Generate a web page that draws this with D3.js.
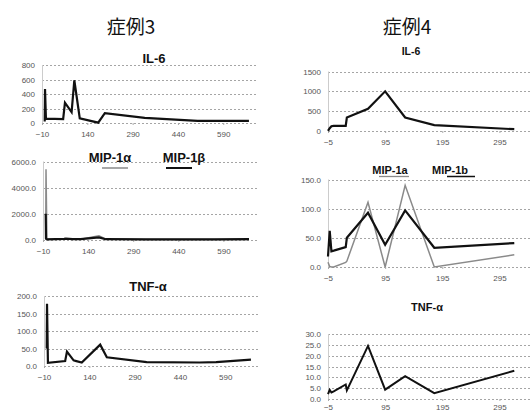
<!DOCTYPE html>
<html><head><meta charset="utf-8">
<script src="https://cdn.jsdelivr.net/npm/d3@7/dist/d3.min.js"></script>
<style>body{margin:0;background:#fff;}svg{display:block;}</style>
</head><body>
<svg id="c" width="532" height="416"></svg>
<script>
// ---- Data ----
const caseTitles = ["症例3", "症例4"];
const xTicks3 = [-10, 140, 290, 440, 590];
const xTicks4 = [-5, 95, 195, 295];
const days3 = [-1, 0, 3, 60, 66, 88, 97, 115, 176, 198, 330, 505, 560, 675];
const il6_3 = [20, 470, 60, 55, 280, 150, 590, 65, 5, 135, 70, 30, 30, 30];
const mip1a_3 = [100, 5400, 50, 60, 80, 60, 50, 60, 330, 80, 30, 30, 30, 40];
const mip1b_3 = [2000, 100, 50, 80, 100, 70, 60, 60, 200, 60, 50, 50, 50, 60];
const tnf_3 = [50, 178, 9, 14, 41, 16, 14, 10, 61, 25, 11, 10, 11, 18];
const days4 = [-5, -2, 1, 5, 26, 28, 65, 95, 130, 181, 321];
const il6_4 = [5, 70, 120, 130, 130, 340, 560, 1000, 340, 150, 45];
const mip1a_4 = [8, 1, 0, 0, 8, 10, 111, 0, 140, 0, 21];
const mip1b_4 = [18, 62, 27, 28, 34, 50, 93, 38, 97, 33, 41];
const tnf_4 = [2.2, 4.2, 3, 3.5, 6.7, 4, 24.5, 4.3, 10.5, 2.7, 13];
const yTicksIL6_3 = [0, 200, 400, 600, 800];
const yTicksMIP_3 = [0, 2000, 4000, 6000];
const yTicksTNF_3 = [0, 50, 100, 150, 200];
const yTicksIL6_4 = [0, 500, 1000, 1500];
const yTicksMIP_4 = [0, 50, 100, 150];
const yTicksTNF_4 = [0, 5, 10, 15, 20, 25, 30];

const svg = d3.select("#c");
const BLACK = "#111", GRAY = "#8a8a8a";

function panel(o) {
  const x = d3.scaleLinear().domain(o.xd).range(o.xr);
  const y = d3.scaleLinear().domain(o.yd).range(o.yr);
  const g = svg.append("g");
  // gridlines
  g.selectAll("line.grid").data(o.yt).join("line")
    .attr("x1", o.xr[0]).attr("x2", o.xr[1])
    .attr("y1", d => Math.round(y(d)) + 0.5).attr("y2", d => Math.round(y(d)) + 0.5)
    .attr("stroke", "#a5a5a5").attr("stroke-width", 1).attr("stroke-dasharray", "2,2");
  // y axis line
  g.append("line").attr("x1", o.xr[0] + 0.5).attr("x2", o.xr[0] + 0.5)
    .attr("y1", o.yr[0]).attr("y2", o.yr[1]).attr("stroke", "#cccccc");
  // y labels
  const yAxis = d3.axisLeft(y).tickValues(o.yt).tickFormat(o.yf).tickSize(0).tickPadding(7);
  const ya = g.append("g").attr("transform", `translate(${o.xr[0]},0)`).call(yAxis);
  ya.select(".domain").remove();
  ya.selectAll("text").attr("font-family", "Liberation Sans, Arial, sans-serif")
    .attr("font-size", 8).attr("fill", "#555");
  // x labels
  const xAxis = d3.axisBottom(x).tickValues(o.xt).tickFormat(d3.format("d")).tickSize(2).tickPadding(o.xp || 6);
  const xa = g.append("g").attr("transform", `translate(0,${o.yr[0]})`).call(xAxis);
  xa.select(".domain").remove();
  xa.selectAll("line").attr("stroke", "#aaa");
  xa.selectAll("text").attr("font-family", "Liberation Sans, Arial, sans-serif")
    .attr("font-size", 8).attr("fill", "#555");
  // series
  const line = d3.line().x(d => x(d[0])).y(d => y(d[1]));
  o.series.forEach(s => {
    g.append("path").datum(o.days.map((d, i) => [d, s.v[i]]))
      .attr("d", line).attr("fill", "none").attr("stroke", s.c)
      .attr("stroke-width", s.w).attr("stroke-linejoin", "miter");
  });
}

function text(t, x, y, size, weight, family) {
  svg.append("text").attr("x", x).attr("y", y).attr("text-anchor", "middle")
    .attr("font-size", size).attr("font-weight", weight || "bold")
    .attr("font-family", family || "Liberation Sans, Arial, sans-serif")
    .attr("fill", "#111").text(t);
}

// Case titles
text(caseTitles[0], 131, 34, 19, "normal", "Noto Sans CJK JP");
text(caseTitles[1], 407, 34, 19, "normal", "Noto Sans CJK JP");

// Case 3 panels
panel({xd: [-10, 705], xr: [42, 258], yd: [0, 800], yr: [123, 65], yt: yTicksIL6_3, yf: d3.format("d"),
  xt: xTicks3, days: days3, series: [{v: il6_3, c: BLACK, w: 2.2}]});
text("IL-6", 154, 63, 13);

panel({xd: [-10, 705], xr: [43, 258], yd: [0, 6000], yr: [240, 161.5], yt: yTicksMIP_3, yf: d3.format(".1f"),
  xt: xTicks3, days: days3, series: [{v: mip1a_3, c: GRAY, w: 1.5}, {v: mip1b_3, c: BLACK, w: 2.2}]});
text("MIP-1α", 110, 162, 13);
text("MIP-1β", 184, 162, 13);
svg.append("line").attr("x1", 102).attr("x2", 128).attr("y1", 168).attr("y2", 168).attr("stroke", GRAY).attr("stroke-width", 1.5);
svg.append("line").attr("x1", 166).attr("x2", 192).attr("y1", 168).attr("y2", 168).attr("stroke", BLACK).attr("stroke-width", 2);

panel({xd: [-10, 705], xr: [44, 260], yd: [0, 200], yr: [366, 296], yt: yTicksTNF_3, yf: d3.format(".1f"),
  xt: xTicks3, days: days3, series: [{v: tnf_3, c: BLACK, w: 2.2}]});
text("TNF-α", 148, 291, 13);

// Case 4 panels
panel({xd: [-5, 352], xr: [328, 532], yd: [0, 1500], yr: [131, 71.5], yt: yTicksIL6_4, yf: d3.format("d"),
  xt: xTicks4, days: days4, series: [{v: il6_4, c: BLACK, w: 2.2}]});
text("IL-6", 411, 55, 10.5);

panel({xd: [-5, 352], xr: [328, 532], yd: [0, 150], yr: [267, 179.5], yt: yTicksMIP_4, yf: d3.format(".1f"),
  xt: xTicks4, days: days4, series: [{v: mip1a_4, c: GRAY, w: 1.5}, {v: mip1b_4, c: BLACK, w: 2.2}]});
text("MIP-1a", 390, 174, 11);
text("MIP-1b", 450, 174, 11);
svg.append("line").attr("x1", 379).attr("x2", 409).attr("y1", 176.5).attr("y2", 176.5).attr("stroke", GRAY).attr("stroke-width", 1.3);
svg.append("line").attr("x1", 447).attr("x2", 475).attr("y1", 176.5).attr("y2", 176.5).attr("stroke", BLACK).attr("stroke-width", 1.5);

panel({xd: [-5, 352], xr: [328, 532], yd: [0, 30], yr: [399, 334], yt: yTicksTNF_4, yf: d3.format(".1f"),
  xt: xTicks4, days: days4, xp: 3, series: [{v: tnf_4, c: BLACK, w: 2}]});
text("TNF-α", 427, 311, 11);
</script>
</body></html>
